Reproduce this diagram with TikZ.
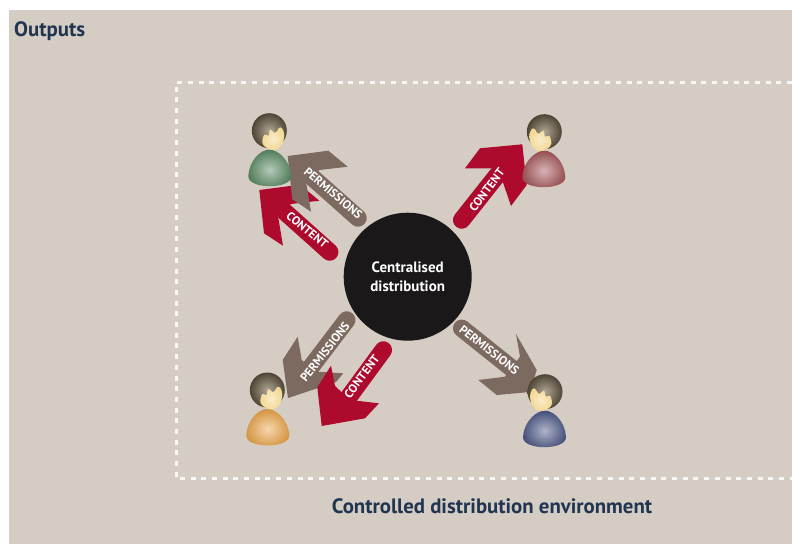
\documentclass[tikz,border=0pt]{standalone}
\usepackage{fontspec}
\setmainfont{PT Sans}
\definecolor{paper}{HTML}{D5CCC4}
\definecolor{navy}{HTML}{1F3550}
\definecolor{permbrown}{HTML}{7C695F}
\definecolor{contentred}{HTML}{AD0A2E}
\definecolor{hubblack}{HTML}{1B1819}
\definecolor{skin}{HTML}{F3D995}
\definecolor{hairdark}{HTML}{4E4536}
\definecolor{hairlight}{HTML}{B0A594}
\definecolor{usergreen}{HTML}{5A8A63}
\definecolor{userred}{HTML}{A5565A}
\definecolor{userorange}{HTML}{EBA548}
\definecolor{userblue}{HTML}{4C5786}
\tikzset{
	title/.style={text=navy,font=\fontsize{20.8}{21}\selectfont\bfseries,inner sep=0},
	armlabel/.style={text=white,font=\fontsize{12}{12}\selectfont\bfseries,inner sep=0},
	shaft/.style={line width=17.5pt,line cap=round},
}
\newcommand\person[4]{% name, position, xscale, body colour
	\begin{scope}[shift={(#2)},xscale=#3]
		\shade[inner color=#4!45!white,outer color=#4!90!black] (-21,45) .. controls (-20,30) and (-9,19) .. (0,19)
			.. controls (9,19) and (21,30) .. (22,45)
			.. controls (23,59) and (-22,59) .. (-21,45) -- cycle;
		\shade[inner color=hairlight,outer color=hairdark] (0,0) circle (17.5);
		\shade[inner color=skin!50!white,outer color=skin] plot[smooth cycle,tension=0.6] coordinates {(-7,12) (-5,4) (-1,5) (1,-1) (6,2) (10,-3) (13,-2) (15,5) (12,15) (5,19.5) (-3,17)};
		\coordinate (#1) at (0,0);
	\end{scope}
}
\begin{document}
\begin{tikzpicture}[x=1pt,y=-1pt]
	\useasboundingbox (0,0) rectangle (792,544);
	\fill[paper] (9,10) rectangle (792,544);

	\node[title,anchor=west] (outputs) at (14,31) {Outputs};
	\draw[white!85!paper,line width=3pt,dash pattern=on 5pt off 5.7pt] (792,82) -- (176,82) -- (176,478.7) -- (792,478.7);
	\node[title,anchor=center] (env) at (492,506) {Controlled distribution environment};

	% top left
	\coordinate (contentTLa) at (329.7,252);
	\coordinate (contentTLb) at (285,212);
	\draw[shaft,contentred] (contentTLa) -- (contentTLb);
	\fill[contentred] (259.3,190) -- (300,184.7) -- (319.3,200.7) -- (291,204) -- (278,216) -- (283,245.7) -- (264,233.3) -- cycle;
	\coordinate (permTLa) at (358,218);
	\coordinate (permTLb) at (313,178);
	\draw[shaft,permbrown] (permTLa) -- (permTLb);
	\fill[permbrown] (287.7,156) -- (328.3,150.7) -- (347.7,166.7) -- (319.3,170) -- (306,181.7) -- (311,211.7) -- (292.3,199.3) -- cycle;
	\node[armlabel,rotate=-40] (permTL) at (333.3,193.3) {PERMISSIONS};
	\node[armlabel,rotate=-40] (contentTL) at (307.3,230) {CONTENT};
	\person{userTL}{269.3,130.7}{1}{usergreen}

	% top right
	\coordinate (contentTRa) at (461.7,220);
	\coordinate (contentTRb) at (497.3,175);
	\draw[shaft,contentred] (contentTRa) -- (contentTRb);
	\fill[contentred] (522.3,144.3) -- (480,148.3) -- (465,168.3) -- (491.7,168.3) -- (503.3,183.3) -- (511,206) -- (526.7,185) -- cycle;
	\node[armlabel,rotate=53] (contentTR) at (486.7,190) {CONTENT};
	\person{userTR}{544.3,131.7}{-1}{userred}

	% bottom left
	\coordinate (permBLa) at (346.7,320);
	\coordinate (permBLb) at (310,368.3);
	\draw[shaft,permbrown] (permBLa) -- (permBLb);
	\fill[permbrown] (288,398) -- (282.7,360) -- (297.7,336.7) -- (301.7,360) -- (317.3,371.7) -- (343.3,373.3) -- (336,382) -- cycle;
	\node[armlabel,rotate=52] (permBL) at (325,351.7) {PERMISSIONS};
	\coordinate (contentBLa) at (383.3,350);
	\coordinate (contentBLb) at (341.7,406.7);
	\draw[shaft,contentred] (contentBLa) -- (contentBLb);
	\fill[contentred] (321.7,426) -- (317.3,387.3) -- (331,365.7) -- (335,386) -- (350,400) -- (379,403.3) -- (365,418.3) -- cycle;
	\node[armlabel,rotate=53] (contentBL) at (361.7,376.7) {CONTENT};
	\person{userBL}{267.3,390}{1}{userorange}

	% bottom right
	\coordinate (permBRa) at (461.7,328.3);
	\coordinate (permBRb) at (511.7,368.3);
	\draw[shaft,permbrown] (permBRa) -- (permBRb);
	\fill[permbrown] (530,392) -- (536.7,370) -- (516,334) -- (520,356.7) -- (505,376.7) -- (478.3,380) -- (496.7,395) -- cycle;
	\node[armlabel,rotate=-38] (permBR) at (489.3,350) {PERMISSIONS};
	\person{userBR}{545,391.7}{-1}{userblue}

	% hub
	\node[circle,fill=hubblack,minimum size=128pt,inner sep=0,text=white,align=center,font=\fontsize{15}{19}\selectfont\bfseries] (hub) at (407.7,276.7) {Centralised\\distribution};
\end{tikzpicture}
\end{document}
